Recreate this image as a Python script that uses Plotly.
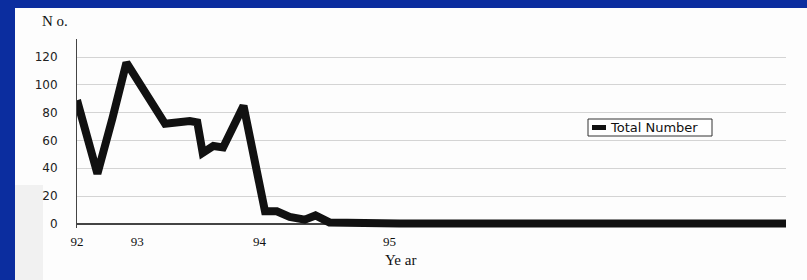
import plotly.graph_objects as go

# ---- data ----
x_vals = [0, 1.9, 3.3, 4.6, 8.2, 10.5, 11.2, 11.7, 12.7, 13.6, 15.5, 17.5, 18.6,
          19.8, 21.2, 22.2, 23.5, 26.3, 30, 39, 49, 58, 66]
total_number = [89, 36, 76, 116, 72, 74, 73, 51, 56, 55, 85, 9, 9,
                5, 3, 6, 1, 0.5, 0.3, 0.3, 0.3, 0.3, 0.3]
x_tick_vals = [0, 5.6, 17, 29.1]
x_tick_labels = ["92", "93", "94", "95"]
y_tick_vals = [0, 20, 40, 60, 80, 100, 120]
series_name = "Total Number"

BLUE = "#0b2d9f"

fig = go.Figure()
fig.add_trace(go.Scatter(
    x=x_vals, y=total_number, mode="lines", name=series_name,
    line=dict(color="#111111", width=8), showlegend=False, hoverinfo="skip"))

W, H = 807, 280
L, R, T, B = 77, 21, 39, 52
pw, ph = W - L - R, H - T - B

def px_x(p):
    return (p - L) / pw

def px_y(p):
    return (H - B - p) / ph

shapes = [
    dict(type="rect", xref="paper", yref="paper", layer="below",
         x0=px_x(15), x1=px_x(830), y0=px_y(300), y1=px_y(8),
         fillcolor="#fdfdfd", line=dict(width=0)),
    dict(type="rect", xref="paper", yref="paper", layer="below",
         x0=px_x(15), x1=px_x(43), y0=px_y(300), y1=px_y(185),
         fillcolor="#f1f1f1", line=dict(width=0)),
    # legend box
    dict(type="rect", xref="paper", yref="paper", layer="above",
         x0=px_x(588), x1=px_x(712), y0=px_y(136), y1=px_y(119),
         fillcolor="#ffffff", line=dict(width=1, color="#333333")),
    # legend key
    dict(type="rect", xref="paper", yref="paper", layer="above",
         x0=px_x(592), x1=px_x(606), y0=px_y(130), y1=px_y(125),
         fillcolor="#111111", line=dict(width=0)),
]

fig.update_layout(
    width=W, height=H,
    margin=dict(l=L, r=R, t=T, b=B, pad=0),
    paper_bgcolor=BLUE,
    plot_bgcolor="rgba(0,0,0,0)",
    shapes=shapes,
    showlegend=False,
    annotations=[
        dict(text="N o.", xref="paper", yref="paper", x=px_x(40), y=px_y(21),
             xanchor="left", yanchor="middle", showarrow=False,
             font=dict(family="Liberation Serif, Times New Roman", size=15, color="#111111")),
        dict(text="Ye ar", xref="paper", yref="paper", x=px_x(383), y=px_y(260),
             xanchor="left", yanchor="middle", showarrow=False,
             font=dict(family="Liberation Serif, Times New Roman", size=15, color="#111111")),
        dict(text=series_name, xref="paper", yref="paper", x=px_x(608), y=px_y(127.5),
             xanchor="left", yanchor="middle", showarrow=False,
             font=dict(family="DejaVu Sans", size=13, color="#111111")),
    ],
)

fig.update_xaxes(
    range=[0, 66], tickvals=x_tick_vals, ticktext=x_tick_labels,
    showgrid=False, zeroline=False, showline=False, ticks="",
    ticklabelstandoff=4,
    tickfont=dict(family="Liberation Serif, Times New Roman", size=13, color="#111111"),
    fixedrange=True)

fig.update_yaxes(
    range=[-3, 133], tickvals=y_tick_vals,
    showgrid=True, gridcolor="#d4d4d4", gridwidth=1,
    zeroline=True, zerolinecolor="#444444", zerolinewidth=1.5,
    showline=True, linecolor="#444444", linewidth=1, ticks="",
    ticklabelstandoff=16,
    tickfont=dict(family="DejaVu Sans", size=12, color="#222222"),
    fixedrange=True)

fig.write_html("out.html", config={"displayModeBar": False},
               post_script="document.body.style.margin='0';document.body.style.overflow='hidden';")
